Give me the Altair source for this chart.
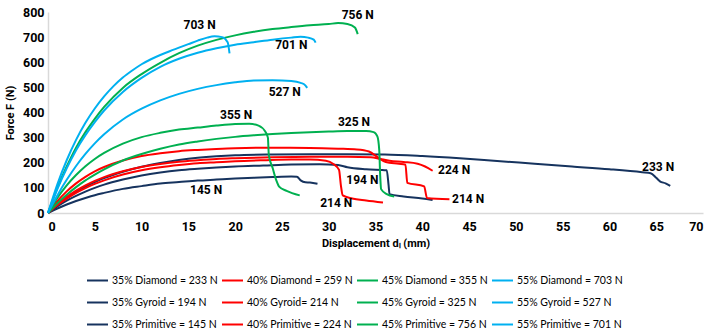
import altair as alt
import pandas as pd

# ---------------- data ----------------
names = [
    "35% Diamond = 233 N", "35% Gyroid = 194 N", "35% Primitive = 145 N",
    "40% Diamond = 259 N", "40% Gyroid= 214 N", "40% Primitive = 224 N",
    "45% Diamond = 355 N", "45% Gyroid = 325 N", "45% Primitive = 756 N",
    "55% Diamond = 703 N", "55% Gyroid = 527 N", "55% Primitive = 701 N",
]
colors = ["#16335E"] * 3 + ["#FF0000"] * 3 + ["#00B050"] * 3 + ["#00B0F0"] * 3

d35_x = [0, 1, 2, 3, 4, 5, 6, 8, 10, 12, 14, 16, 18, 20, 24, 28, 32, 36, 40, 44, 48, 52, 56, 60, 63.5, 64.4, 65, 65.4, 66, 66.5]
d35_y = [0, 32, 60, 84, 105, 123, 139, 164, 184, 199, 211, 220, 226, 230, 233, 234, 234, 233, 227, 218, 207, 196, 185, 174, 162, 158, 140, 126, 118, 108]

d40_x = [0, 1, 2, 3, 4, 5, 6, 8, 10, 12, 14, 16, 18, 20, 24, 28, 31, 33, 34.3, 35.3, 36.1, 37.5, 38.2, 38.4, 40.2, 40.5, 42.9]
d40_y = [0, 47, 86, 118, 144, 166, 183, 209, 227, 238, 246, 251, 255, 258, 260, 259, 256, 253, 245, 220, 203, 196, 192, 120, 106, 60, 55]

d45_x = [0, 1, 2, 3, 4, 5, 6, 8, 10, 12, 14, 16, 18, 20, 21.5, 22.5, 23.2, 23.5, 23.6, 24.0, 24.4, 24.7, 25.5, 26.9]
d45_y = [0, 60, 110, 151, 186, 215, 239, 276, 302, 319, 332, 340, 348, 354, 355, 348, 325, 300, 230, 180, 130, 105, 88, 70]

d55_x = [0, 1, 2, 3, 4, 5, 6, 7, 8, 9, 10, 11, 12, 13, 14, 15, 16, 17, 17.8, 18.6, 19.2, 19.4]
d55_y = [0, 114, 210, 291, 359, 416, 464, 505, 539, 567, 592, 612, 629, 644, 658, 672, 686, 698, 703, 700, 680, 635]

g35_x = [0, 1, 2, 3, 4, 5, 6, 8, 10, 12, 14, 16, 18, 20, 23, 26, 29, 31, 32, 34, 36.2, 36.4, 36.5, 38, 40, 41.1]
g35_y = [0, 26, 49, 68, 85, 100, 113, 133, 149, 161, 170, 176, 181, 185, 189, 193, 194, 191, 182, 174, 170, 110, 75, 66, 58, 52]

g40_x = [0, 1, 2, 3, 4, 5, 6, 8, 10, 12, 14, 16, 18, 20, 23, 26, 28, 29.7, 30.5, 31.1, 31.3, 31.5, 32.5, 34, 35.8]
g40_y = [0, 31, 57, 80, 99, 116, 130, 153, 170, 182, 191, 198, 202, 206, 210, 213, 213, 208, 195, 172, 110, 70, 58, 50, 42]

g45_x = [0, 1, 2, 3, 4, 5, 6, 8, 10, 12, 14, 16, 18, 20, 22, 24, 26, 28, 30, 32, 34, 34.8, 35.2, 35.4, 35.5, 35.6, 36.2, 37]
g45_y = [0, 39, 73, 103, 130, 153, 174, 209, 235, 256, 273, 285, 295, 303, 309, 314, 318, 321, 324, 326, 326, 322, 305, 250, 150, 95, 75, 66]

g55_x = [0, 1, 2, 3, 4, 5, 6, 8, 10, 12, 14, 16, 18, 20, 22, 24, 26, 27, 27.5, 27.7]
g55_y = [0, 70, 132, 187, 235, 277, 313, 372, 415, 448, 474, 494, 509, 520, 527, 528, 525, 518, 508, 498]

p35_x = [0, 1, 2, 3, 4, 5, 6, 8, 10, 12, 14, 16, 18, 20, 22, 24, 26, 26.6, 27, 27.5, 28, 28.8]
p35_y = [0, 18, 34, 48, 60, 71, 80, 96, 107, 117, 123, 129, 133, 137, 140, 143, 145, 144, 130, 122, 121, 116]

p40_x = [0, 1, 2, 3, 4, 5, 6, 8, 10, 12, 14, 16, 18, 20, 24, 28, 32, 34.5, 35.5, 36.5, 38, 39.5, 40.3, 41.1]
p40_y = [0, 35, 64, 89, 110, 128, 143, 166, 183, 195, 204, 210, 215, 218, 222, 224, 224, 222, 215, 208, 203, 196, 185, 168]

p45_x = [0, 1, 2, 3, 4, 5, 6, 8, 10, 12, 14, 16, 18, 20, 22, 24, 26, 28, 30, 31, 32, 32.8, 33.1]
p45_y = [0, 100, 185, 260, 322, 375, 422, 498, 553, 598, 636, 666, 689, 707, 721, 732, 740, 747, 752, 756, 752, 738, 712]

p55_x = [0, 1, 2, 3, 4, 5, 6, 8, 10, 12, 14, 16, 18, 20, 22, 24, 26, 27, 27.8, 28.4, 28.6]
p55_y = [0, 95, 178, 250, 310, 362, 408, 482, 538, 582, 614, 638, 656, 670, 680, 690, 698, 701, 698, 690, 678]

# peak-force annotations (text, x in mm, y in N)
ann_text = ["703 N", "756 N", "701 N", "527 N", "355 N", "325 N", "224 N", "233 N", "194 N", "214 N", "214 N", "145 N"]
ann_x = [16.2, 33.1, 26.0, 25.3, 20.1, 32.7, 43.4, 65.2, 33.6, 44.9, 30.8, 16.9]
ann_y = [748, 787, 668, 483, 390, 364, 172, 185, 132, 57, 40, 93]

x_ticks = list(range(0, 71, 5))
y_ticks = list(range(0, 801, 100))

# ---------------- build table ----------------
series_xy = {
    names[0]: (d35_x, d35_y), names[1]: (g35_x, g35_y), names[2]: (p35_x, p35_y),
    names[3]: (d40_x, d40_y), names[4]: (g40_x, g40_y), names[5]: (p40_x, p40_y),
    names[6]: (d45_x, d45_y), names[7]: (g45_x, g45_y), names[8]: (p45_x, p45_y),
    names[9]: (d55_x, d55_y), names[10]: (g55_x, g55_y), names[11]: (p55_x, p55_y),
}
rows = []
for name, (xs_, ys_) in series_xy.items():
    for i, (xv, yv) in enumerate(zip(xs_, ys_)):
        rows.append({"series": name, "x": xv, "y": yv, "i": i})
df = pd.DataFrame(rows)
ann = pd.DataFrame({"t": ann_text, "x": ann_x, "y": ann_y})

FONT = "Roboto, Liberation Sans, sans-serif"

xs = alt.Scale(domain=[0, 70], nice=False, zero=True)
ys = alt.Scale(domain=[0, 800], nice=False)
x_axis = alt.Axis(values=x_ticks, title="Displacement dₗ (mm)", titlePadding=5, labelPadding=7, labelOverlap=False)
y_axis = alt.Axis(values=y_ticks, title="Force F (N)", titlePadding=7, labelPadding=4, labelOverlap=False, tickCount=9)

lines = alt.Chart(df).mark_line(strokeWidth=2, interpolate="monotone").encode(
    x=alt.X("x:Q", scale=xs, axis=x_axis),
    y=alt.Y("y:Q", scale=ys, axis=y_axis),
    color=alt.Color(
        "series:N",
        sort=names,
        scale=alt.Scale(domain=names, range=colors),
        legend=alt.Legend(
            orient="none", legendX=38, legendY=257, columns=4, title=None,
            symbolType="stroke", symbolStrokeWidth=2, symbolSize=441,
            labelFontSize=10.5, labelFont="Lato, Liberation Sans, sans-serif", labelColor="#000000",
            labelOffset=3, rowPadding=5, columnPadding=0, gridAlign="all", padding=0,
            labelLimit=200,
        ),
    ),
    order="i:Q",
)

labels = alt.Chart(ann).mark_text(fontWeight="bold", fontSize=12, font=FONT, color="#000000").encode(
    x=alt.X("x:Q", scale=xs, axis=x_axis), y=alt.Y("y:Q", scale=ys, axis=y_axis), text="t:N"
)

chart = (lines + labels).properties(
    width=655, height=201,
    autosize=alt.AutoSizeParams(type="none"),
    padding={"left": 48, "top": 12, "right": 13, "bottom": 120},
    background="white",
).configure_view(stroke=None).configure_axis(
    grid=False, ticks=False, domainColor="#D9D9D9", domainWidth=1.5,
    labelFont=FONT, labelFontWeight="bold", labelFontSize=12.5, labelColor="#000000",
    titleFont=FONT, titleFontWeight="bold", titleFontSize=11, titleColor="#000000",
)

chart.save("out.html", embed_options={"renderer": "svg", "actions": False})
